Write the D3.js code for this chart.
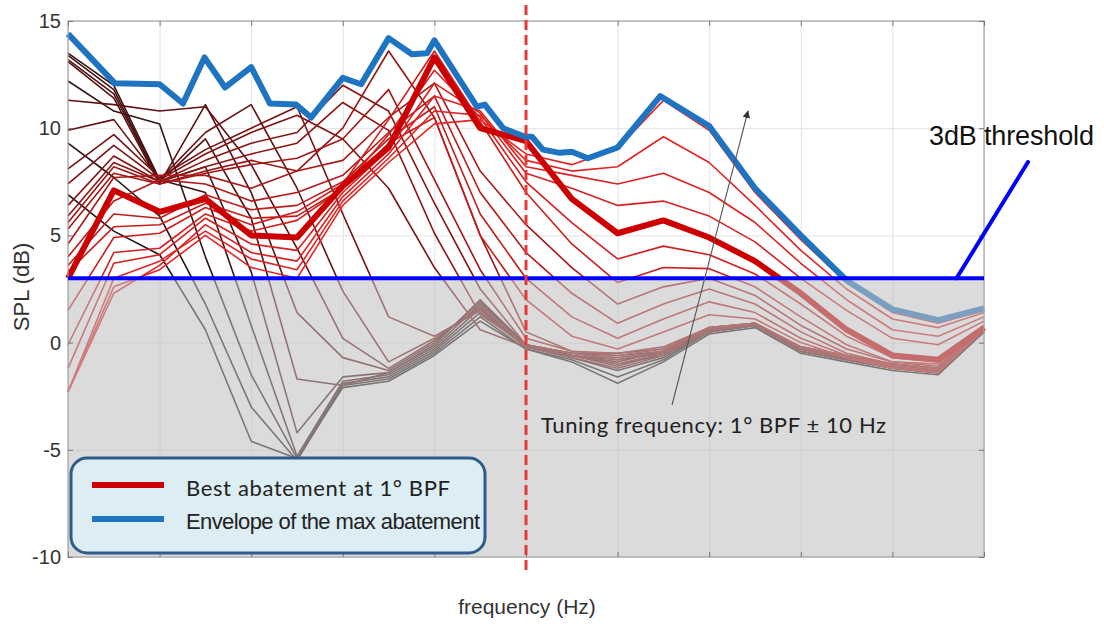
<!DOCTYPE html>
<html lang="en">
<head>
<meta charset="UTF-8">
<title>SPL vs frequency</title>
<script src="https://d3js.org/d3.v7.min.js"></script>
<style>
  body { margin: 0; background: #fff; }
  text { font-family: "Liberation Sans", Arial, sans-serif; }
</style>
</head>
<body>
<script>
// frequency steps (the original has no x tick labels)
const freqSteps = [0, 1, 2, 3, 4, 5, 6, 7, 8, 9, 10, 11, 12, 13, 14, 15, 16, 17, 18, 19, 20];
const xGrid = [0, 2, 4, 6, 8, 10, 12, 14, 16, 18, 20];
const yTicks = [-10, -5, 0, 5, 10, 15];
const threshold = 3;
const tuningStep = 10;

// thin curves, one per tuning frequency (dark = low tuning, bright = high tuning)
const a1 = [6.9, 5.2, 4.1, 0.6, -4.6, -5.4, -2.1, -1.8, -0.6, 1.0, -0.3, -0.9, -1.9, -0.9, 0.4, 0.7, -0.5, -0.9, -1.3, -1.5, 0.5];
const a2 = [9.3, 7.7, 5.9, 1.8, -3.0, -5.5, -2.0, -1.7, -0.5, 1.2, -0.3, -0.8, -1.6, -0.8, 0.5, 0.8, -0.4, -0.8, -1.2, -1.4, 0.5];
const a3 = [12.2, 10.8, 10.2, 4.0, -1.5, -5.4, -1.9, -1.6, -0.4, 1.4, -0.2, -0.7, -1.3, -0.7, 0.5, 0.8, -0.4, -0.8, -1.2, -1.4, 0.6];
const a4 = [13.5, 12.0, 7.6, 7.0, 0.8, -5.3, -1.8, -1.5, -0.3, 1.6, -0.2, -0.6, -1.0, -0.6, 0.6, 0.9, -0.3, -0.7, -1.1, -1.3, 0.6];
const a5 = [13.4, 11.8, 7.5, 8.2, 3.3, -4.2, -1.6, -1.4, -0.2, 1.8, -0.1, -0.6, -0.8, -0.5, 0.6, 0.9, -0.3, -0.7, -1.1, -1.3, 0.6];
const a6 = [13.2, 11.6, 7.5, 9.5, 5.8, -1.7, -2.0, -1.4, -0.1, 2.0, -0.1, -0.5, -0.6, -0.4, 0.7, 0.9, -0.2, -0.6, -1.0, -1.2, 0.6];
const d3a = [13.1, 11.4, 7.4, 11.1, 7.0, 1.4, -0.7, -1.3, 0.0, 1.9, -0.1, -0.5, -0.5, -0.3, 0.7, 0.9, -0.2, -0.6, -1.0, -1.2, 0.6];
const d3b = [11.3, 11.1, 10.8, 11.0, 8.3, 4.4, 0.2, -1.2, 0.1, 1.7, -0.2, -0.6, -0.9, -0.4, 0.6, 0.9, -0.3, -0.7, -1.1, -1.3, 0.6];
const d4 = [9.9, 10.4, 7.6, 9.8, 11.1, 7.2, 2.4, -0.9, 0.2, 1.6, -0.2, -0.6, -1.1, -0.5, 0.6, 0.8, -0.3, -0.7, -1.1, -1.3, 0.6];
const d5 = [8.1, 9.7, 7.7, 9.0, 10.0, 11.0, 6.0, 1.2, 0.3, 1.5, -0.2, -0.7, -1.2, -0.6, 0.5, 0.8, -0.4, -0.8, -1.2, -1.4, 0.5];
const d5b = [7.4, 9.2, 7.6, 8.8, 9.8, 10.6, 9.5, 7.2, 3.5, 0.6, -0.2, -0.6, -1.0, -0.5, 0.6, 0.8, -0.3, -0.7, -1.1, -1.3, 0.6];
const d6 = [6.4, 8.7, 7.5, 8.5, 9.3, 9.8, 12.0, 10.8, 6.5, 2.5, -0.1, -0.5, -0.7, -0.4, 0.6, 0.9, -0.3, -0.7, -1.1, -1.3, 0.6];
const d6b = [5.9, 8.4, 7.5, 8.2, 8.8, 9.3, 11.2, 9.9, 5.1, 1.3, -0.1, -0.5, -0.8, -0.4, 0.6, 0.9, -0.3, -0.7, -1.1, -1.3, 0.6];
const d7 = [5.6, 8.2, 7.4, 8.0, 8.5, 8.0, 10.0, 13.6, 10.5, 5.0, 0.5, -0.4, -0.5, -0.2, 0.7, 0.9, -0.2, -0.6, -1.0, -1.2, 0.6];
const d7b = [5.3, 7.9, 7.4, 7.9, 8.3, 8.6, 9.5, 11.8, 7.6, 3.4, 0.2, -0.4, -0.6, -0.3, 0.7, 0.9, -0.2, -0.6, -1.0, -1.2, 0.6];
const m1 = [4.6, 7.7, 7.8, 7.8, 7.2, 8.0, 8.5, 10.5, 12.1, 8.0, 5.5, 3.5, 1.8, 2.6, 3.0, 2.2, 0.8, -0.3, -0.9, -1.1, 0.7];
const m2 = [4.0, 6.6, 7.6, 7.4, 6.6, 7.0, 7.8, 9.8, 11.5, 7.0, 4.2, 2.3, 0.9, 1.8, 2.5, 1.8, 0.5, -0.5, -1.0, -1.2, 0.7];
const m3 = [3.6, 6.0, 5.8, 6.9, 6.2, 6.4, 7.5, 9.5, 11.0, 6.0, 3.0, 1.2, 0.2, 1.1, 1.9, 1.4, 0.2, -0.6, -1.1, -1.3, 0.6];
const m4 = [3.3, 5.4, 5.5, 6.5, 5.8, 5.9, 7.2, 9.3, 10.5, 5.0, 2.0, 0.3, -0.3, 0.5, 1.3, 1.1, 0.0, -0.7, -1.2, -1.4, 0.6];
const r6 = [1.5, 4.9, 5.1, 6.3, 5.5, 6.1, 7.4, 10.4, 13.6, 10.3, 7.0, 4.6, 2.8, 3.5, 3.45, 2.6, 1.2, -0.1, -0.9, -1.0, 0.8];
const r5 = [-0.1, 4.2, 4.4, 6.0, 5.2, 5.7, 7.2, 9.7, 12.7, 10.5, 7.5, 5.6, 3.9, 4.5, 4.1, 3.2, 1.8, 0.3, -0.7, -0.9, 0.8];
const r4 = [-1.2, 3.7, 4.1, 5.8, 4.6, 4.3, 7.0, 9.0, 12.1, 10.7, 7.9, 7.2, 6.4, 6.6, 5.9, 4.7, 3.0, 1.5, 0.2, -0.1, 1.0];
const r3 = [-2.3, 2.3, 3.6, 5.5, 4.2, 3.8, 6.8, 8.8, 11.5, 10.8, 8.2, 7.8, 7.4, 7.9, 7.0, 5.6, 3.7, 2.0, 0.6, 0.3, 1.2];
const r2 = [-2.3, 3.0, 3.8, 5.2, 3.9, 3.4, 6.6, 8.6, 10.8, 10.6, 8.5, 8.0, 8.2, 9.6, 8.4, 6.4, 4.3, 2.5, 1.1, 0.7, 1.4];
const r1 = [-2.3, 2.6, 3.4, 5.0, 3.5, 3.0, 6.4, 8.4, 10.2, 10.4, 8.8, 8.3, 9.05, 11.3, 9.9, 7.0, 4.8, 2.8, 1.4, 0.9, 1.5];

// best abatement at 1st BPF (thick red)
const bestCurve = [3.0, 7.1, 6.1, 6.7, 5.0, 4.9, 7.3, 9.1, 13.3, 10.0, 9.4, 6.7, 5.1, 5.7, 4.9, 3.8, 2.3, 0.6, -0.6, -0.8, 0.7];

// envelope of the max abatement (blue)
const envSteps = [0, 1.02, 2, 2.51, 2.98, 3.43, 4.0, 4.41, 4.98, 5.31, 6.0, 6.4, 7.0, 7.51, 7.84, 8.0, 8.93, 9.1, 9.5, 9.98, 10.13, 10.37, 10.74, 11.0, 11.35, 12.0, 12.93, 14.0, 15.0, 16.0, 17.0, 18.0, 19.0, 20.0];
const envValues = [14.4, 12.1, 12.05, 11.15, 13.3, 11.9, 12.85, 11.15, 11.1, 10.5, 12.35, 12.05, 14.2, 13.45, 13.5, 14.1, 11.0, 11.1, 10.0, 9.6, 9.6, 9.0, 8.85, 8.9, 8.6, 9.1, 11.5, 10.1, 7.2, 5.0, 2.9, 1.55, 1.05, 1.6];

const thinSeries = [a1, a2, a3, a4, a5, a6, d3a, d3b, d4, d5, d5b, d6, d6b, d7, d7b, m1, m2, m3, m4, r6, r5, r4, r3, r2, r1];

const margin = {top: 21, right: 120, bottom: 67, left: 68};
const width = 1104 - margin.left - margin.right;
const height = 624 - margin.top - margin.bottom;

const x = d3.scaleLinear().domain([0, 20]).range([0, width]);
const y = d3.scaleLinear().domain([-10, 15]).range([height, 0]);

const root = d3.select("body").append("svg")
  .attr("width", 1104)
  .attr("height", 624);

root.append("defs").append("marker")
  .attr("id", "arrowhead")
  .attr("viewBox", "0 0 10 10")
  .attr("refX", 9).attr("refY", 5)
  .attr("markerWidth", 7).attr("markerHeight", 7)
  .attr("orient", "auto")
  .append("path")
  .attr("d", "M0,0 L10,5 L0,10 z")
  .attr("fill", "#333");

const svg = root.append("g")
  .attr("transform", "translate(" + margin.left + "," + margin.top + ")");

svg.append("rect")
  .attr("width", width).attr("height", height)
  .attr("fill", "#fff");

// grid
const gx = svg.append("g")
  .attr("transform", "translate(0," + height + ")")
  .call(d3.axisBottom(x).tickValues(xGrid).tickSize(-height).tickFormat(""));
const gy = svg.append("g")
  .call(d3.axisLeft(y).tickValues(yTicks).tickSize(-width).tickFormat(""));
[gx, gy].forEach(g => {
  g.select(".domain").remove();
  g.selectAll("line").attr("stroke", "#e2e2e2").attr("stroke-width", 1);
});

// y tick labels (plain hyphen minus, as in the original)
const yAxis = svg.append("g")
  .call(d3.axisLeft(y).tickValues(yTicks).tickSize(0).tickPadding(7).tickFormat(d => String(d)));
yAxis.select(".domain").remove();
yAxis.selectAll("text")
  .attr("font-size", 20)
  .attr("fill", "#333")
  .style("font-family", "'Liberation Sans', Arial, sans-serif");

// curves
const line = d3.line()
  .x((d, i) => x(freqSteps[i]))
  .y(d => y(d));

const lineColor = d3.piecewise(d3.interpolateRgb, ["#1c1616", "#5a1010", "#8e1414", "#c81c1c", "#e82424"]);

svg.append("g")
  .selectAll("path")
  .data(thinSeries)
  .join("path")
  .attr("d", line)
  .attr("fill", "none")
  .attr("stroke", (d, i) => lineColor(i / (thinSeries.length - 1)))
  .attr("stroke-width", 1.6)
  .attr("stroke-linejoin", "round");

svg.append("path")
  .datum(bestCurve)
  .attr("d", line)
  .attr("fill", "none")
  .attr("stroke", "#cc0000")
  .attr("stroke-width", 6)
  .attr("stroke-linejoin", "round");

const envLine = d3.line()
  .x((d, i) => x(envSteps[i]))
  .y(d => y(d));

svg.append("path")
  .datum(envValues)
  .attr("d", envLine)
  .attr("fill", "none")
  .attr("stroke", "#1f74c2")
  .attr("stroke-width", 6)
  .attr("stroke-linejoin", "round");

// grey band below the 3 dB threshold
svg.append("rect")
  .attr("x", 0)
  .attr("y", y(threshold))
  .attr("width", width)
  .attr("height", y(-10) - y(threshold))
  .attr("fill", "rgb(192,192,192)")
  .attr("opacity", 0.57);

// frame and inward ticks
svg.append("rect")
  .attr("width", width).attr("height", height)
  .attr("fill", "none")
  .attr("stroke", "#a5a5a5")
  .attr("stroke-width", 1.2);

const tickSets = [
  svg.append("g").call(d3.axisTop(x).tickValues(xGrid).tickSize(-5).tickFormat("")),
  svg.append("g").attr("transform", "translate(0," + height + ")")
    .call(d3.axisBottom(x).tickValues(xGrid).tickSize(-5).tickFormat("")),
  svg.append("g").call(d3.axisLeft(y).tickValues(yTicks).tickSize(-5).tickFormat("")),
  svg.append("g").attr("transform", "translate(" + width + ",0)")
    .call(d3.axisRight(y).tickValues(yTicks).tickSize(-5).tickFormat(""))
];
tickSets.forEach(g => {
  g.select(".domain").remove();
  g.selectAll("line").attr("stroke", "#777");
});

// threshold line and its label leader
svg.append("line")
  .attr("x1", x(0)).attr("x2", x(20))
  .attr("y1", y(threshold)).attr("y2", y(threshold))
  .attr("stroke", "#0000ff")
  .attr("stroke-width", 4);

svg.append("line")
  .attr("x1", x(19.4)).attr("y1", y(threshold))
  .attr("x2", 1028 - margin.left).attr("y2", 162 - margin.top)
  .attr("stroke", "#0000ff")
  .attr("stroke-width", 4)
  .attr("stroke-linecap", "round");

root.append("text")
  .attr("x", 929).attr("y", 145)
  .attr("font-size", 27)
  .attr("fill", "#111")
  .attr("textLength", 165)
  .text("3dB threshold");

// tuning frequency marker
svg.append("line")
  .attr("x1", x(tuningStep)).attr("x2", x(tuningStep))
  .attr("y1", -16).attr("y2", height + 18)
  .attr("stroke", "#e8383a")
  .attr("stroke-width", 3)
  .attr("stroke-dasharray", "10,5");

root.append("line")
  .attr("x1", 672).attr("y1", 405)
  .attr("x2", 748).attr("y2", 111)
  .attr("stroke", "#555")
  .attr("stroke-width", 1.1)
  .attr("marker-end", "url(#arrowhead)");

root.append("text")
  .attr("x", 541).attr("y", 433)
  .attr("font-size", 22)
  .attr("fill", "#222")
  .attr("textLength", 345)
  .style("font-family", "Lato, 'Open Sans', sans-serif")
  .text("Tuning frequency: 1° BPF ± 10 Hz");

// legend
const legend = root.append("g");
legend.append("rect")
  .attr("x", 71).attr("y", 458)
  .attr("width", 414).attr("height", 95)
  .attr("rx", 16)
  .attr("fill", "#dcedf3")
  .attr("stroke", "#2e5b8c")
  .attr("stroke-width", 3);
legend.append("line")
  .attr("x1", 92).attr("x2", 164).attr("y1", 485).attr("y2", 485)
  .attr("stroke", "#cc0000").attr("stroke-width", 6);
legend.append("line")
  .attr("x1", 92).attr("x2", 164).attr("y1", 519).attr("y2", 519)
  .attr("stroke", "#1f74c2").attr("stroke-width", 6);
legend.append("text")
  .attr("x", 186).attr("y", 496)
  .attr("font-size", 22)
  .attr("fill", "#222")
  .attr("textLength", 264)
  .style("font-family", "Lato, 'Open Sans', sans-serif")
  .text("Best abatement at 1° BPF");
legend.append("text")
  .attr("x", 186).attr("y", 529)
  .attr("font-size", 22)
  .attr("fill", "#222")
  .attr("textLength", 294)
  .style("font-family", "'Liberation Sans Narrow', 'Liberation Sans', sans-serif")
  .text("Envelope of the max abatement");

// axis titles
root.append("text")
  .attr("x", 527).attr("y", 614)
  .attr("text-anchor", "middle")
  .attr("font-size", 21)
  .attr("fill", "#333")
  .text("frequency (Hz)");

root.append("text")
  .attr("transform", "translate(29,287) rotate(-90)")
  .attr("text-anchor", "middle")
  .attr("font-size", 22)
  .attr("fill", "#333")
  .text("SPL (dB)");
</script>
</body>
</html>
